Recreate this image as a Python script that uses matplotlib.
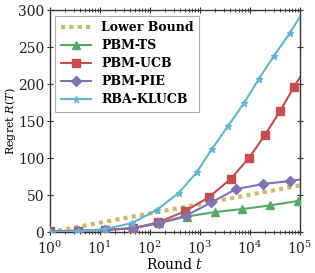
import numpy as np
import matplotlib
matplotlib.use("Agg")
import matplotlib.pyplot as plt

plt.rcParams['mathtext.fontset'] = 'dejavuserif'
plt.rcParams['font.family'] = ['DejaVu Serif']

# log10 of round t at which values were read
lb_logt = [0, 1, 2, 3, 4, 5]
lb_val = [0, 12.6, 25.2, 37.8, 50.4, 63]

ts_logt = [0, 0.57, 1.1, 1.64, 2.18, 2.74, 3.30, 3.84, 4.40, 4.96, 5.0]
ts_val = [0.5, 1.5, 3, 5, 12, 21, 27, 31, 36, 42, 43]

ucb_logt = [0, 0.57, 1.1, 1.66, 2.16, 2.70, 3.18, 3.62, 3.98, 4.30, 4.60, 4.88, 5.0]
ucb_val = [1, 2, 3, 5, 13, 28, 47, 72, 100, 131, 163, 196, 209]

pie_logt = [0, 0.57, 1.1, 1.66, 2.18, 2.72, 3.23, 3.72, 4.27, 4.81, 5.0]
pie_val = [0.5, 1.5, 3, 5, 12, 22, 40, 58, 65, 69, 71]

kl_logt = [0, 0.57, 1.1, 1.64, 2.14, 2.58, 2.94, 3.24, 3.56, 3.88, 4.18, 4.48, 4.80, 5.0]
kl_val = [0, 1, 4, 12, 30, 53, 81, 112, 143, 174, 207, 238, 269, 291]

labels = ['Lower Bound', 'PBM-TS', 'PBM-UCB', 'PBM-PIE', 'RBA-KLUCB']
yticks = [0, 50, 100, 150, 200, 250, 300]

fig = plt.figure(figsize=(3.15, 2.73), dpi=100)
ax = fig.add_axes([0.158, 0.150, 0.794, 0.813])

def t(v):
    return 10 ** np.array(v, dtype=float)

ax.plot(t(lb_logt), lb_val, color='#CCB974', lw=3, ls=(0, (1, 1)), label=labels[0], zorder=2)
ax.plot(t(ts_logt), ts_val, color='#55A868', lw=1.5, marker='^', ms=5.5,
        markevery=list(range(len(ts_logt) - 1)), label=labels[1], zorder=3)
ax.plot(t(ucb_logt), ucb_val, color='#C44E52', lw=1.5, marker='s', ms=5.5,
        markevery=list(range(len(ucb_logt) - 1)), label=labels[2], zorder=3)
ax.plot(t(pie_logt), pie_val, color='#8172B2', lw=1.5, marker='D', ms=5.5,
        markevery=list(range(len(pie_logt) - 1)), label=labels[3], zorder=3)
ax.plot(t(kl_logt), kl_val, color='#64B5CD', lw=1.5, marker='*', ms=4.5,
        markevery=list(range(len(kl_logt) - 1)), label=labels[4], zorder=3)

ax.set_xscale('log')
ax.set_xlim(1, 1e5)
ax.set_ylim(0, 300)
ax.set_yticks(yticks)
ax.set_yticklabels([str(v) for v in yticks])
ax.set_xticks([1, 10, 100, 1e3, 1e4, 1e5])
ax.set_xticklabels([r'$10^{%d}$' % i for i in range(6)])

for s in ax.spines.values():
    s.set_color('#333333')
    s.set_linewidth(1.0)
ax.tick_params(which='major', direction='inout', length=5, width=0.8, colors='#333333',
               labelsize=10, top=True, right=True, labelcolor='#222222')
ax.tick_params(axis='y', which='major', pad=1.5)
ax.tick_params(axis='x', which='major', pad=3)
ax.tick_params(which='minor', direction='inout', length=3, width=0.6, colors='#333333',
               top=True, right=True)

ax.set_xlabel(r'Round $t$', fontsize=10, labelpad=0)
ax.set_ylabel(r'Regret $R(T)$', fontsize=8)
ax.yaxis.set_label_coords(-0.128, 0.5)

leg = ax.legend(loc='upper left', prop={'family': 'DejaVu Serif', 'weight': 'bold', 'size': 9},
                frameon=True, fancybox=False, handlelength=2.4, borderpad=0.45,
                labelspacing=0.4, borderaxespad=0.45, handletextpad=0.8)
leg.get_frame().set_edgecolor('#999999')
leg.get_frame().set_linewidth(0.8)

fig.savefig('out.png', dpi=100)
